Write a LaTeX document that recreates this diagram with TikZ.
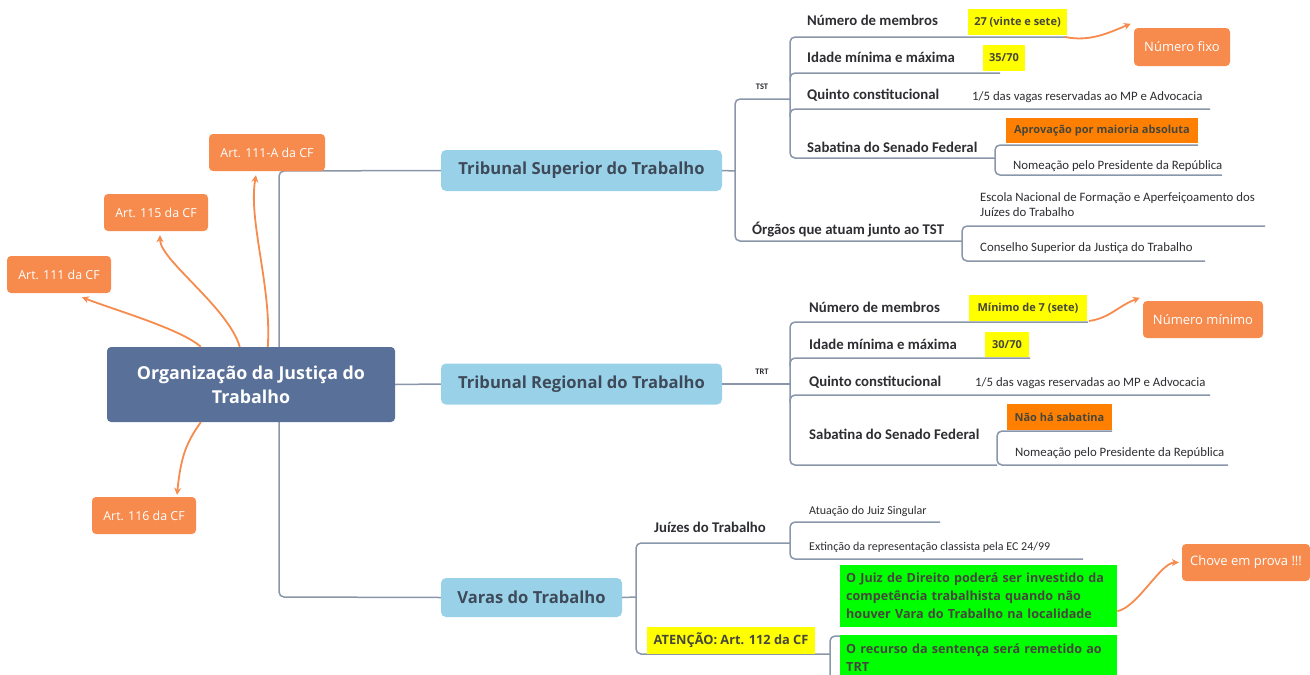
\documentclass[tikz,border=0pt]{standalone}
\usepackage{fontspec}
\setmainfont{Open Sans}
\newfontfamily\cali{Carlito}
\usetikzlibrary{arrows.meta,calc}
\definecolor{rootc}{RGB}{89,112,152}
\definecolor{bluec}{RGB}{153,210,232}
\definecolor{bluetext}{RGB}{62,74,89}
\definecolor{orc}{RGB}{246,139,77}
\definecolor{hlor}{RGB}{255,128,0}
\definecolor{hlyel}{RGB}{255,255,0}
\definecolor{hlgreen}{RGB}{0,255,0}
\definecolor{linec}{RGB}{138,150,170}
\definecolor{txt}{RGB}{45,45,50}
\definecolor{hltext}{RGB}{70,70,60}
\begin{document}
\begin{tikzpicture}[x=1pt,y=-1pt,
  rootbox/.style={fill=rootc, rounded corners=4pt, text=white, font=\bfseries\fontsize{17.8}{24}\selectfont, align=center, minimum width=288pt, minimum height=75pt, inner sep=0pt},
  bluebox/.style={fill=bluec, rounded corners=5pt, text=bluetext, font=\bfseries\fontsize{16.6}{20}\selectfont, minimum height=41pt, inner sep=0pt},
  orbox/.style={fill=orc, rounded corners=4pt, text=white, font=\fontsize{12.4}{14}\selectfont, minimum height=37pt, inner sep=0pt},
  lab/.style={anchor=base west, inner sep=0pt, text=txt, font=\cali\bfseries\fontsize{14.8}{16}\selectfont},
  smalllab/.style={anchor=base west, inner sep=0pt, text=txt, font=\cali\fontsize{12.8}{15}\selectfont, align=left},
  tiny/.style={inner sep=0pt, text=txt, font=\cali\bfseries\fontsize{8.5}{9}\selectfont},
  hl/.style={inner sep=0pt, font=\bfseries\fontsize{11}{13}\selectfont, text=hltext},
  greenbox/.style={fill=hlgreen, anchor=north west, minimum width=277pt, text width=265pt, inner xsep=6pt, inner ysep=0pt, align=left, text=hltext, font=\bfseries\fontsize{12.6}{18}\selectfont},
  ln/.style={draw=linec, line width=1.5pt, rounded corners=5pt},
  arr/.style={draw=orc, line width=1.8pt, -{Stealth[length=7pt,width=7pt]}}
]
\useasboundingbox (0,0) rectangle (1310,675);

% ---- trunk
\node[bluebox, minimum width=281pt] (tst) at (581.5,170.5) {Tribunal Superior do Trabalho};
\node[bluebox, minimum width=281pt] (trt) at (581.5,384) {Tribunal Regional do Trabalho};
\node[bluebox, minimum width=181pt, minimum height=39pt] (varas) at (531.5,597.5) {Varas do Trabalho};
\draw[ln] (tst.west) -- (279,171) -- (279,597) -- (varas.west);

\node[rootbox] (root) at (251,384.5) {Organização da Justiça do\\Trabalho};
\draw[ln] (root.east) -- (trt.west);

% ---- article boxes
\node[orbox, minimum width=116pt] (a111A) at (267,152.5) {Art. 111-A da CF};
\node[orbox, minimum width=104pt] (a115) at (156,212.5) {Art. 115 da CF};
\node[orbox, minimum width=104pt] (a111) at (59,274.5) {Art. 111 da CF};
\node[orbox, minimum width=104pt] (a116) at (144,515.5) {Art. 116 da CF};

\draw[arr] ([xshift=94pt]root.north west) .. controls +(-20,-18) and +(30,12) .. ([xshift=23pt,yshift=-4pt]a111.south);
\draw[arr] ([xshift=133pt]root.north west) .. controls +(-12,-40) and +(0,25) .. ([xshift=4pt,yshift=-4pt]a115.south);
\draw[arr] ([xshift=161pt]root.north west) .. controls +(4,-60) and +(-8,45) .. ([xshift=-11pt,yshift=-4pt]a111A.south);
\draw[arr] ([xshift=94pt]root.south west) .. controls +(-14,20) and +(4,-40) .. ([xshift=33pt,yshift=2pt]a116.north);

% ---- TST branch
\node[tiny] (tstlab) at (762,87) {TST};
\draw[ln] (tst.east) -- (735,171);
\draw[ln] (790,99) -- (735,99) -- (735,241) -- (962,241);
\draw[ln] (1067,37) -- (790,37) -- (790,158) -- (995,158);
\draw[ln] (790,81) |- (1000,73);
\draw[ln] (790,117) |- (1210,109);
\draw[ln] (1198,145) -- (995,145) -- (995,175) -- (1222,175);
\draw[ln] (1265,226) -- (962,226) -- (962,261) -- (1205,261);

\node[lab] (t1) at (807,25) {Número de membros};
\node[lab] (t2) at (807,62) {Idade mínima e máxima};
\node[lab] (t3) at (807,99) {Quinto constitucional};
\node[lab] (t4) at (807,152) {Sabatina do Senado Federal};
\node[lab] (t5) at (752,234) {Órgãos que atuam junto ao TST};

\node[hl, fill=hlyel, minimum width=99pt, minimum height=26pt] (t1v) at (1017.5,22) {27 (vinte e sete)};
\node[hl, fill=hlyel, minimum width=42pt, minimum height=26pt] (t2v) at (1004,58) {35/70};
\node[smalllab] (t3v) at (972,100) {1/5 das vagas reservadas ao MP e Advocacia};
\node[hl, fill=hlor, minimum width=192pt, minimum height=25pt] (t4a) at (1102,130.5) {Aprovação por maioria absoluta};
\node[smalllab] (t4b) at (1013,169) {Nomeação pelo Presidente da República};
\node[smalllab] (t5a) at (980,216) {Escola Nacional de Formação e Aperfeiçoamento dos\\Juízes do Trabalho};
\node[smalllab] (t5b) at (980,251) {Conselho Superior da Justiça do Trabalho};

\node[orbox, minimum width=96pt, minimum height=38pt, font=\fontsize{13}{15}\selectfont] (fixo) at (1182,47) {Número fixo};
\draw[arr] (1065,37) .. controls (1090,42) and (1108,33) .. ([xshift=-3pt,yshift=4pt]fixo.north west);

% ---- TRT branch
\node[tiny] (trtlab) at (762,372) {TRT};
\draw[ln] (trt.east) -- (790,384);
\draw[ln] (1088,322) -- (790,322) -- (790,465) -- (997,465);
\draw[ln] (790,366) |- (1030,358);
\draw[ln] (790,403) |- (1210,395);
\draw[ln] (1112,431) -- (997,431) -- (997,465) -- (1228,465);

\node[lab] (r1) at (809,312) {Número de membros};
\node[lab] (r2) at (809,349) {Idade mínima e máxima};
\node[lab] (r3) at (809,386) {Quinto constitucional};
\node[lab] (r4) at (809,439) {Sabatina do Senado Federal};

\node[hl, fill=hlyel, minimum width=118pt, minimum height=26pt] (r1v) at (1028,308) {Mínimo de 7 (sete)};
\node[hl, fill=hlyel, minimum width=44pt, minimum height=25pt] (r2v) at (1007,344.5) {30/70};
\node[smalllab] (r3v) at (975,386) {1/5 das vagas reservadas ao MP e Advocacia};
\node[hl, fill=hlor, minimum width=105pt, minimum height=26pt] (r4a) at (1059.5,417) {Não há sabatina};
\node[smalllab] (r4b) at (1015,456) {Nomeação pelo Presidente da República};

\node[orbox, minimum width=120pt, font=\fontsize{13}{15}\selectfont] (minimo) at (1203,319.5) {Número mínimo};
\draw[arr] (1089,321) .. controls (1110,318) and (1118,306) .. ([xshift=-3pt,yshift=3pt]minimo.north west);

% ---- Varas branch
\draw[ln] (varas.east) -- (636,597);
\draw[ln] (790,543) -- (636,543) -- (636,654) -- (830,654);
\draw[ln] (940,522) -- (790,522) -- (790,559) -- (1083,559);
\draw[ln] (1117,636) -- (830,636) -- (830,690);

\node[lab] (v1) at (654,532) {Juízes do Trabalho};
\node[smalllab, font=\cali\fontsize{12}{14}\selectfont] (v1a) at (809,514) {Atuação do Juiz Singular};
\node[smalllab, font=\cali\fontsize{12}{14}\selectfont] (v1b) at (809,550) {Extinção da representação classista pela EC 24/99};

\node[hl, fill=hlyel, minimum width=168pt, minimum height=27pt, font=\bfseries\fontsize{12.8}{15}\selectfont] (v2) at (731,640.5) {ATENÇÃO: Art. 112 da CF};
\node[greenbox, minimum height=62pt] (g1) at (840,565) {O Juiz de Direito poderá ser investido da\\competência trabalhista quando não\\houver Vara do Trabalho na localidade};
\node[greenbox, minimum height=44pt] (g2) at (840,635) {O recurso da sentença será remetido ao\\TRT};

\node[orbox, minimum width=128pt, font=\fontsize{13}{15}\selectfont] (chove) at (1246,562.5) {Chove em prova !!!};
\draw[arr] ([yshift=-15pt]g1.east) .. controls +(20,-4) and +(-18,0) .. ([xshift=-3pt]chove.west);
\end{tikzpicture}
\end{document}
